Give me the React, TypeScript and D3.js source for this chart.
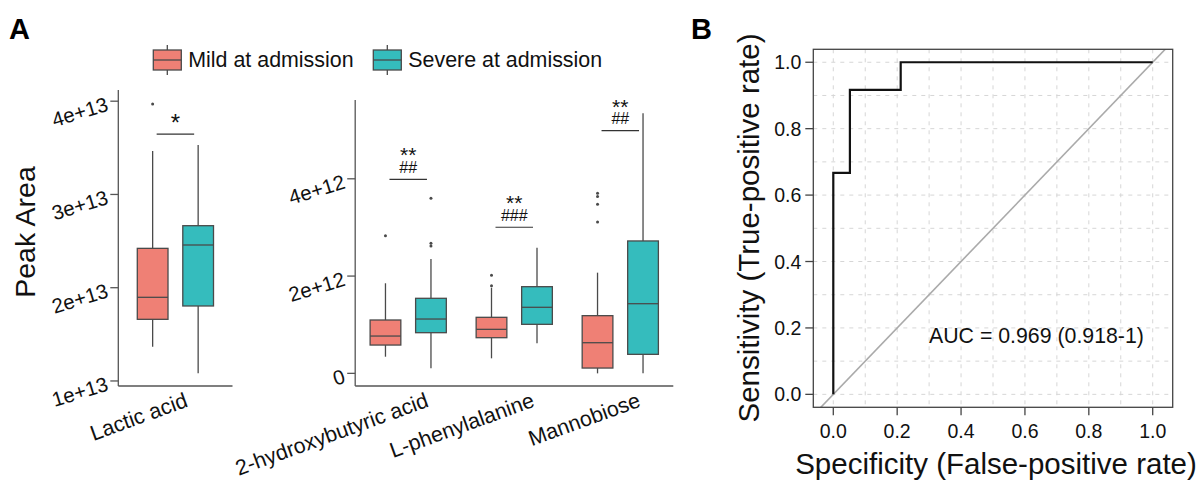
import React from 'react';
import * as d3 from 'd3';

// groups and colours
const groups = ['Mild at admission', 'Severe at admission'];
const groupColors = ['#EF8075', '#35BCBD'];

// box stats: [lower whisker, q1, median, q3, upper whisker]
const lacticNames = ['Lactic acid'];
const lacticMild = [[1.368e13, 1.661e13, 1.897e13, 2.422e13, 3.465e13]];
const lacticSevere = [[1.083e13, 1.804e13, 2.458e13, 2.665e13, 3.529e13]];
const lacticMildOut = [[3.97e13]];
const lacticSevereOut: number[][] = [[]];
const lacticTicks = [1e13, 2e13, 3e13, 4e13];
const lacticSig = [3.647e13];
const lacticStars = ['*'];
const lacticHashes = [''];

const otherNames = ['2-hydroxybutyric acid', 'L-phenylalanine', 'Mannobiose'];
const otherMild = [
  [0.342e12, 0.582e12, 0.767e12, 1.097e12, 1.852e12],
  [0.309e12, 0.733e12, 0.905e12, 1.152e12, 1.761e12],
  [0, 0.109e12, 0.63e12, 1.186e12, 2.07e12],
];
const otherSevere = [
  [0.103e12, 0.836e12, 1.117e12, 1.543e12, 2.352e12],
  [0.617e12, 1.008e12, 1.358e12, 1.782e12, 2.584e12],
  [0, 0.391e12, 1.432e12, 2.722e12, 5.35e12],
];
const otherMildOut = [[2.831e12], [1.8e12, 2.016e12], [3.113e12, 3.477e12, 3.634e12, 3.704e12]];
const otherSevereOut = [[2.62e12, 2.675e12, 3.6e12], [], []];
const otherTicks = [0, 2e12, 4e12];
const otherSig = [3.99e12, 3.004e12, 4.99e12];
const otherStars = ['**', '**', '**'];
const otherHashes = ['##', '###', '##'];

// ROC
const rocFpr = [0, 0, 0.052, 0.052, 0.211, 0.211, 1];
const rocTpr = [0, 0.667, 0.667, 0.917, 0.917, 1, 1];
const rocTicks = [0, 0.2, 0.4, 0.6, 0.8, 1];
const rocGrid = [0, 0.1, 0.2, 0.3, 0.4, 0.5, 0.6, 0.7, 0.8, 0.9, 1];
const aucLabel = 'AUC = 0.969 (0.918-1)';

const FONT = '"Liberation Sans", Arial, Helvetica, sans-serif';
const AXIS = '#555';
const OUTLINE = '#4a4a4a';

const fmtSci = (v: number) => (v === 0 ? '0' : d3.format('.0e')(v));

type PanelProps = {
  names: string[];
  mild: number[][];
  severe: number[][];
  mildOut: number[][];
  severeOut: number[][];
  ticks: number[];
  sig: number[];
  stars: string[];
  hashes: string[];
  x0: number;
  x1: number;
  domain: [number, number];
  top: number;
  labelOffset: number;
};

const BoxPanel: React.FC<PanelProps> = (p) => {
  const bottom = 386;
  const x = d3.scaleBand<string>().domain(p.names).range([p.x0, p.x1]);
  const y = d3.scaleLinear().domain(p.domain).range([bottom, p.top]);
  const sub = d3.scaleBand<string>().domain(groups).range([-45.5, 45.5]);
  const boxW = sub.bandwidth() * 0.675;
  const stats = [p.mild, p.severe];
  const outs = [p.mildOut, p.severeOut];

  return (
    <g>
      {/* axes */}
      <line x1={p.x0} x2={p.x0} y1={p.top} y2={bottom} stroke={AXIS} strokeWidth={1.3} />
      <line x1={p.x0} x2={p.x1} y1={bottom} y2={bottom} stroke={AXIS} strokeWidth={1.3} />
      {p.ticks.map((t) => (
        <g key={t}>
          <line x1={p.x0 - 8} x2={p.x0} y1={y(t)} y2={y(t)} stroke={AXIS} strokeWidth={1.3} />
          <text
            transform={`translate(${p.x0 - 11},${y(t) + 2}) rotate(-17)`}
            textAnchor="end"
            dominantBaseline="central"
            fontSize={20.5}
            fill="#111"
          >
            {fmtSci(t)}
          </text>
        </g>
      ))}
      {p.names.map((name, i) => {
        const cx = (x(name) as number) + x.bandwidth() / 2;
        return (
          <g key={name}>
            {groups.map((g, gi) => {
              const c = cx + (sub(g) as number) + sub.bandwidth() / 2;
              const [lo, q1, med, q3, hi] = stats[gi][i];
              return (
                <g key={g}>
                  <line x1={c} x2={c} y1={y(hi)} y2={y(q3)} stroke={OUTLINE} strokeWidth={1.3} />
                  <line x1={c} x2={c} y1={y(q1)} y2={y(lo)} stroke={OUTLINE} strokeWidth={1.3} />
                  <rect
                    x={c - boxW / 2}
                    width={boxW}
                    y={y(q3)}
                    height={y(q1) - y(q3)}
                    fill={groupColors[gi]}
                    stroke={OUTLINE}
                    strokeWidth={1.3}
                  />
                  <line x1={c - boxW / 2} x2={c + boxW / 2} y1={y(med)} y2={y(med)} stroke={OUTLINE} strokeWidth={1.3} />
                  {outs[gi][i].map((o, k) => (
                    <circle key={k} cx={c} cy={y(o)} r={1.5} fill={OUTLINE} />
                  ))}
                </g>
              );
            })}
            {/* significance */}
            {(() => {
              const a = cx + (sub(groups[0]) as number) + sub.bandwidth() / 2 + 4;
              const b = cx + (sub(groups[1]) as number) + sub.bandwidth() / 2 - 4;
              const yy = y(p.sig[i]);
              const mid = (a + b) / 2;
              return (
                <g>
                  <line x1={a} x2={b} y1={yy} y2={yy} stroke="#333" strokeWidth={1.2} />
                  {p.hashes[i] ? (
                    <text textAnchor="middle" fill="#111">
                      <tspan x={mid} y={yy - 17} fontSize={21}>
                        {p.stars[i]}
                      </tspan>
                      <tspan x={mid} y={yy - 6.5} fontSize={16}>
                        {p.hashes[i]}
                      </tspan>
                    </text>
                  ) : (
                    <text x={mid} y={yy - 3} textAnchor="middle" fontSize={24} fill="#111">
                      {p.stars[i]}
                    </text>
                  )}
                </g>
              );
            })()}
            <text
              transform={`translate(${cx + p.labelOffset},${bottom + 5}) rotate(-20)`}
              textAnchor="end"
              dy="0.75em"
              fontSize={21.5}
              fill="#111"
            >
              {name}
            </text>
          </g>
        );
      })}
    </g>
  );
};

const RocPanel: React.FC = () => {
  const x = d3.scaleLinear().domain([-0.0626, 1.0626]).range([813.3, 1172.7]);
  const y = d3.scaleLinear().domain([-0.039, 1.039]).range([407.3, 49.3]);
  const line = d3
    .line<number>()
    .x((_, i) => x(rocFpr[i]))
    .y((d) => y(d));
  const [xa, xb] = x.range();
  const [yb, ya] = y.range();
  return (
    <g>
      <defs>
        <clipPath id="rocclip">
          <rect x={xa} y={ya} width={xb - xa} height={yb - ya} />
        </clipPath>
      </defs>
      {rocGrid.map((g) => (
        <g key={g}>
          <line x1={x(g)} x2={x(g)} y1={ya} y2={yb} stroke="#d6d6d6" strokeWidth={1} strokeDasharray="4,5" />
          <line x1={xa} x2={xb} y1={y(g)} y2={y(g)} stroke="#d6d6d6" strokeWidth={1} strokeDasharray="4,5" />
        </g>
      ))}
      <g clipPath="url(#rocclip)">
        <line x1={x(-0.1)} y1={y(-0.1)} x2={x(1.1)} y2={y(1.1)} stroke="#aaa" strokeWidth={1.6} />
      </g>
      <path d={line(rocTpr) || ''} fill="none" stroke="#111" strokeWidth={2.2} />
      <rect x={xa} y={ya} width={xb - xa} height={yb - ya} fill="none" stroke="#444" strokeWidth={1.3} />
      {rocTicks.map((t) => (
        <g key={t}>
          <line x1={xa - 8} x2={xa} y1={y(t)} y2={y(t)} stroke="#444" strokeWidth={1.3} />
          <text x={xa - 12} y={y(t)} textAnchor="end" dominantBaseline="central" fontSize={19.5} fill="#111">
            {d3.format('.1f')(t)}
          </text>
          <line x1={x(t)} x2={x(t)} y1={yb} y2={yb + 8} stroke="#444" strokeWidth={1.3} />
          <text x={x(t)} y={yb + 24} textAnchor="middle" dominantBaseline="central" fontSize={19.5} fill="#111">
            {d3.format('.1f')(t)}
          </text>
        </g>
      ))}
      <text x={x(0.636)} y={y(0.176)} textAnchor="middle" dominantBaseline="central" fontSize={21.3} fill="#111">
        {aucLabel}
      </text>
      <text x={996} y={474} textAnchor="middle" fontSize={29.5} fill="#111">
        Specificity (False-positive rate)
      </text>
      <text transform={`translate(759,228) rotate(-90)`} textAnchor="middle" fontSize={29.5} fill="#111">
        Sensitivity (True-positive rate)
      </text>
    </g>
  );
};

export default function App() {
  const legendX = [153.3, 373.3];
  return (
    <svg
      width={1196}
      height={480}
      style={{ position: 'absolute', left: 0, top: 0, background: '#fff' }}
      fontFamily={FONT}
    >
      <rect width={1196} height={480} fill="#fff" />
      <text x={9} y={39} fontSize={29} fontWeight="bold" fill="#000">
        A
      </text>
      <text x={691} y={39} fontSize={29} fontWeight="bold" fill="#000">
        B
      </text>

      {/* legend */}
      {groups.map((g, i) => (
        <g key={g}>
          <line x1={legendX[i] + 14} x2={legendX[i] + 14} y1={45} y2={75} stroke={OUTLINE} strokeWidth={1.3} />
          <rect x={legendX[i]} y={50} width={28} height={20} fill={groupColors[i]} stroke={OUTLINE} strokeWidth={1.3} />
          <line x1={legendX[i]} x2={legendX[i] + 28} y1={60} y2={60} stroke={OUTLINE} strokeWidth={1.3} />
          <text x={legendX[i] + 35} y={60} dominantBaseline="central" fontSize={21.4} fill="#111">
            {g}
          </text>
        </g>
      ))}

      <text transform="translate(35,232) rotate(-90)" textAnchor="middle" fontSize={28.5} fill="#111">
        Peak Area
      </text>

      <BoxPanel
        names={lacticNames}
        mild={lacticMild}
        severe={lacticSevere}
        mildOut={lacticMildOut}
        severeOut={lacticSevereOut}
        ticks={lacticTicks}
        sig={lacticSig}
        stars={lacticStars}
        hashes={lacticHashes}
        x0={118.3}
        x1={232.5}
        domain={[0.946e13, 4.12e13]}
        top={90}
        labelOffset={8}
      />
      <BoxPanel
        names={otherNames}
        mild={otherMild}
        severe={otherSevere}
        mildOut={otherMildOut}
        severeOut={otherSevereOut}
        ticks={otherTicks}
        sig={otherSig}
        stars={otherStars}
        hashes={otherHashes}
        x0={355.2}
        x1={673.3}
        domain={[-0.26e12, 5.62e12]}
        top={100}
        labelOffset={16}
      />

      <RocPanel />
    </svg>
  );
}
